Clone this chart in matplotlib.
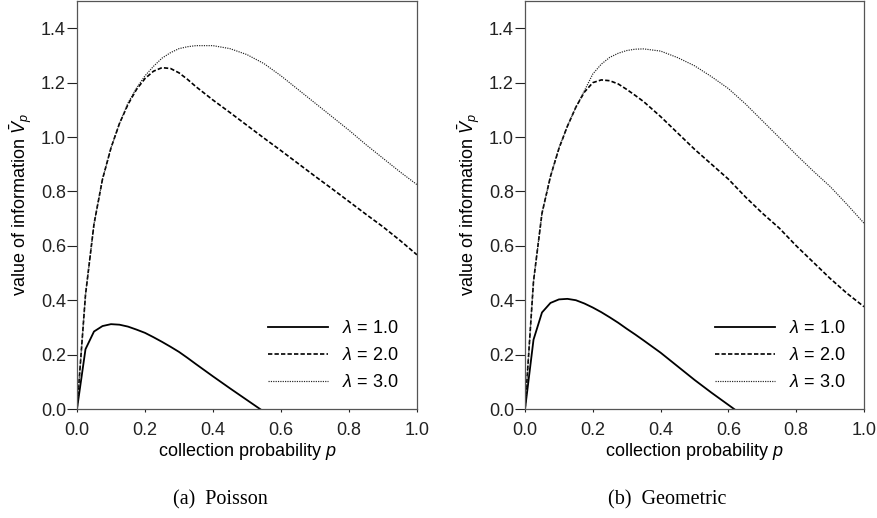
import numpy as np
import matplotlib
matplotlib.use("Agg")
import matplotlib.pyplot as plt
from matplotlib.ticker import FormatStrFormatter

plt.rcParams['font.family'] = ['Liberation Sans', 'DejaVu Sans']
plt.rcParams['mathtext.fontset'] = 'custom'
plt.rcParams['mathtext.rm'] = 'Liberation Sans'
plt.rcParams['mathtext.it'] = 'Liberation Sans:italic'

# collection probability grid and the readings
p_grid = [0.0, 0.025, 0.05, 0.075, 0.1, 0.125, 0.15, 0.175, 0.2,
          0.225, 0.25, 0.275, 0.3, 0.325, 0.35, 0.4, 0.45, 0.5, 0.55, 0.6, 0.65, 0.7,
          0.75, 0.8, 0.85, 0.9, 0.95, 1.0]

# (a) Poisson
pois_l1 = [0.0, 0.22, 0.285, 0.305, 0.312, 0.31, 0.303, 0.292, 0.28,
           0.264, 0.247, 0.229, 0.21, 0.188, 0.165, 0.12, 0.076, 0.033, -0.01, -0.055, -0.10, -0.15,
           -0.2, -0.25, -0.3, -0.35, -0.4, -0.45]
pois_l2 = [0.0, 0.42, 0.68, 0.845, 0.96, 1.05, 1.12, 1.175, 1.215,
           1.242, 1.255, 1.252, 1.236, 1.212, 1.185, 1.136, 1.09, 1.043, 0.996, 0.95, 0.903, 0.856,
           0.81, 0.763, 0.716, 0.67, 0.62, 0.567]
pois_l3 = [0.0, 0.42, 0.68, 0.845, 0.96, 1.05, 1.125, 1.18, 1.225,
           1.26, 1.29, 1.31, 1.325, 1.332, 1.336, 1.336, 1.325, 1.303, 1.27, 1.225, 1.175, 1.125,
           1.075, 1.025, 0.972, 0.922, 0.872, 0.825]

# (b) Geometric
geom_l1 = [0.0, 0.255, 0.355, 0.39, 0.403, 0.405, 0.40, 0.388, 0.373,
           0.356, 0.337, 0.317, 0.295, 0.274, 0.252, 0.207, 0.157, 0.107, 0.06, 0.015, -0.03, -0.08,
           -0.13, -0.18, -0.23, -0.28, -0.33, -0.38]
geom_l2 = [0.0, 0.47, 0.72, 0.855, 0.958, 1.04, 1.11, 1.165, 1.2,
           1.21, 1.207, 1.195, 1.175, 1.153, 1.13, 1.075, 1.015, 0.955, 0.9, 0.845, 0.78, 0.72,
           0.665, 0.6, 0.54, 0.48, 0.425, 0.376]
geom_l3 = [0.0, 0.47, 0.72, 0.855, 0.96, 1.04, 1.11, 1.17, 1.232,
           1.268, 1.293, 1.308, 1.318, 1.323, 1.324, 1.316, 1.292, 1.262, 1.222, 1.178, 1.122, 1.06,
           0.998, 0.935, 0.875, 0.818, 0.752, 0.683]

lambdas = ["1.0", "2.0", "3.0"]
styles = [dict(ls="-", lw=1.3, color="black"),
          dict(ls=(0, (2.6, 1.3)), lw=1.2, color="black"),
          dict(ls=(0, (1, 1)), lw=0.85, color="#222222")]

panels = [("(a)  Poisson", [pois_l1, pois_l2, pois_l3], [0.0877, 0.2104, 0.3872, 0.7876]),
          ("(b)  Geometric", [geom_l1, geom_l2, geom_l3], [0.598, 0.2104, 0.3861, 0.7876])]

FS = 13

fig = plt.figure(figsize=(8.78, 5.18), dpi=100)

for caption, series, rect in panels:
    ax = fig.add_axes(rect)
    for vals, lam, st in zip(series, lambdas, styles):
        ax.plot(p_grid, vals, label=r"$\lambda$ = " + lam, **st)
    ax.set_xlim(0, 1.0)
    ax.set_ylim(0, 1.5)
    ax.set_xticks(np.arange(0, 1.01, 0.2))
    ax.set_yticks(np.arange(0, 1.41, 0.2))
    ax.xaxis.set_major_formatter(FormatStrFormatter('%.1f'))
    ax.yaxis.set_major_formatter(FormatStrFormatter('%.1f'))
    ax.tick_params(axis="y", direction="out", length=7, width=0.8, labelsize=FS,
                   colors="#222222", pad=1)
    ax.tick_params(axis="x", direction="out", length=2.5, width=0.8, labelsize=FS,
                   colors="#222222", pad=7)
    for s in ax.spines.values():
        s.set_color("#555555")
        s.set_linewidth(0.9)
    ax.set_xlabel(r"collection probability $p$", fontsize=FS, va="center")
    ax.set_ylabel(r"value of information $\bar{V}_p$", fontsize=FS, va="center")
    ax.xaxis.set_label_coords(0.5, -0.105)
    ax.yaxis.set_label_coords(-56 / (rect[2] * 878), 0.5)
    ax.legend(loc="lower right", frameon=False, fontsize=FS, handlelength=3.3,
              handletextpad=0.8, labelspacing=0.55, borderaxespad=0.6)
    cx = rect[0] + rect[2] / 2 - 27 / 878
    fig.text(cx, 1 - 500 / 518, caption, ha="center", va="center",
             family=["Liberation Serif", "DejaVu Serif"], fontsize=14.5)

fig.savefig("out.png", dpi=100)
